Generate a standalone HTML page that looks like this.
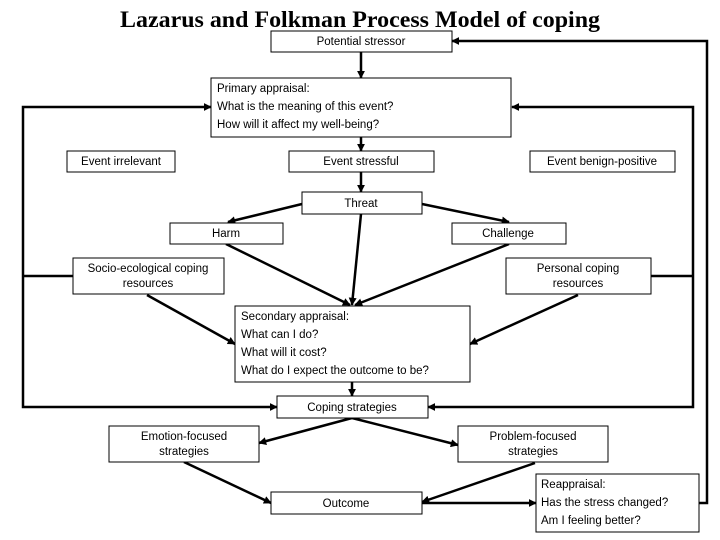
<!DOCTYPE html>
<html><head><meta charset="utf-8"><style>
html,body{margin:0;padding:0;background:#fff;}
svg{display:block;}
text{font-family:"Liberation Sans",Arial,sans-serif;font-size:11.5px;fill:#000;}
.t{font-family:"Liberation Serif",serif;font-weight:bold;font-size:23px;}
rect{fill:#fff;stroke:#000;stroke-width:1;}
.l{stroke:#000;stroke-width:2.5;fill:none;}
</style></head><body>
<svg width="720" height="540" viewBox="0 0 720 540" xmlns="http://www.w3.org/2000/svg">
<defs><marker id="a" viewBox="0 0 10 10" refX="9" refY="5" markerWidth="3.2" markerHeight="3.2" orient="auto"><path d="M0,0L10,5L0,10z" fill="#000"/></marker></defs>
<text class="t" x="120" y="27" textLength="480" lengthAdjust="spacingAndGlyphs">Lazarus and Folkman Process Model of coping</text>

<g class="l" marker-end="url(#a)">
<line x1="361" y1="52" x2="361" y2="78"/>
<line x1="361" y1="137" x2="361" y2="151"/>
<line x1="361" y1="172" x2="361" y2="192"/>
<line x1="302" y1="204" x2="228" y2="222"/>
<line x1="422" y1="204" x2="509" y2="222"/>
<line x1="361" y1="214" x2="352" y2="305"/>
<line x1="226" y1="244" x2="350" y2="305"/>
<line x1="509" y1="244" x2="355" y2="305"/>
<line x1="147" y1="295" x2="235" y2="344"/>
<line x1="578" y1="295" x2="470" y2="344"/>
<line x1="352" y1="382" x2="352" y2="396"/>
<line x1="352" y1="418" x2="259" y2="443"/>
<line x1="352" y1="418" x2="458" y2="445"/>
<line x1="184" y1="462" x2="271" y2="503"/>
<line x1="535" y1="463" x2="422" y2="502"/>
<line x1="422" y1="503" x2="536" y2="503"/>
<polyline points="23,276 23,107 211,107"/>
<polyline points="23,276 23,407 277,407"/>
<polyline points="693,276 693,107 512,107"/>
<polyline points="693,276 693,407 428,407"/>
<polyline points="699,503 707,503 707,41 452,41"/>
</g>
<line class="l" x1="23" y1="276" x2="73" y2="276"/>
<line class="l" x1="651" y1="276" x2="693" y2="276"/>

<rect x="271" y="31" width="181" height="21"/>
<text x="361" y="45" text-anchor="middle">Potential stressor</text>

<rect x="211" y="78" width="300" height="59"/>
<text x="217" y="92">Primary appraisal:</text>
<text x="217" y="110">What is the meaning of this event?</text>
<text x="217" y="128">How will it affect my well-being?</text>

<rect x="67" y="151" width="108" height="21"/>
<text x="121" y="165" text-anchor="middle">Event irrelevant</text>
<rect x="289" y="151" width="145" height="21"/>
<text x="361" y="165" text-anchor="middle">Event stressful</text>
<rect x="530" y="151" width="145" height="21"/>
<text x="602" y="165" text-anchor="middle">Event benign-positive</text>

<rect x="302" y="192" width="120" height="22"/>
<text x="361" y="207" text-anchor="middle">Threat</text>
<rect x="170" y="223" width="113" height="21"/>
<text x="226" y="237" text-anchor="middle">Harm</text>
<rect x="452" y="223" width="114" height="21"/>
<text x="508" y="237" text-anchor="middle">Challenge</text>

<rect x="73" y="258" width="151" height="36"/>
<text x="148" y="272" text-anchor="middle">Socio-ecological coping</text>
<text x="148" y="287" text-anchor="middle">resources</text>
<rect x="506" y="258" width="145" height="36"/>
<text x="578" y="272" text-anchor="middle">Personal coping</text>
<text x="578" y="287" text-anchor="middle">resources</text>

<rect x="235" y="306" width="235" height="76"/>
<text x="241" y="320">Secondary appraisal:</text>
<text x="241" y="338">What can I do?</text>
<text x="241" y="356">What will it cost?</text>
<text x="241" y="374">What do I expect the outcome to be?</text>

<rect x="277" y="396" width="151" height="22"/>
<text x="352" y="411" text-anchor="middle">Coping strategies</text>

<rect x="109" y="426" width="150" height="36"/>
<text x="184" y="440" text-anchor="middle">Emotion-focused</text>
<text x="184" y="455" text-anchor="middle">strategies</text>
<rect x="458" y="426" width="150" height="36"/>
<text x="533" y="440" text-anchor="middle">Problem-focused</text>
<text x="533" y="455" text-anchor="middle">strategies</text>

<rect x="271" y="492" width="151" height="22"/>
<text x="346" y="507" text-anchor="middle">Outcome</text>

<rect x="536" y="474" width="163" height="58"/>
<text x="541" y="488">Reappraisal:</text>
<text x="541" y="506">Has the stress changed?</text>
<text x="541" y="524">Am I feeling better?</text>
</svg>
</body></html>
